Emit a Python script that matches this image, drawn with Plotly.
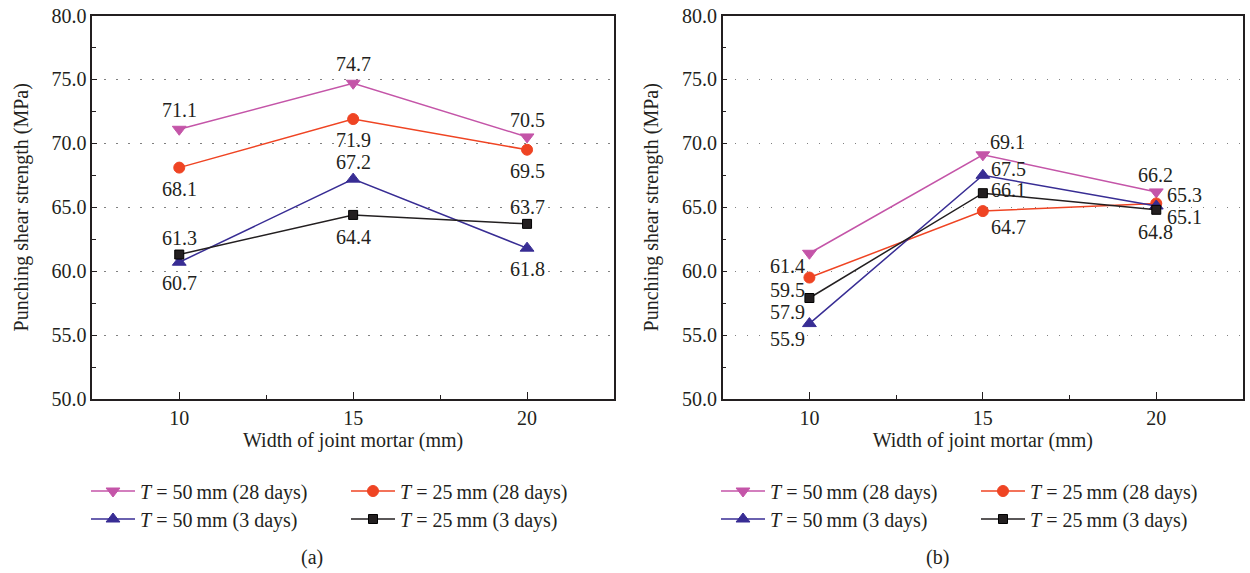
import plotly.graph_objects as go

# ---------------- data ----------------
widths = [10, 15, 20]
series_names = [
    "<i>T</i> = 50\u2009mm (28 days)",
    "<i>T</i> = 25\u2009mm (28 days)",
    "<i>T</i> = 50\u2009mm (3 days)",
    "<i>T</i> = 25\u2009mm (3 days)",
]
a_50_28 = [71.1, 74.7, 70.5]
a_25_28 = [68.1, 71.9, 69.5]
a_50_3 = [60.7, 67.2, 61.8]
a_25_3 = [61.3, 64.4, 63.7]
b_50_28 = [61.4, 69.1, 66.2]
b_25_28 = [59.5, 64.7, 65.3]
b_50_3 = [55.9, 67.5, 65.1]
b_25_3 = [57.9, 66.1, 64.8]
y_ticks = [50, 55, 60, 65, 70, 75, 80]
x_ticks = [10, 15, 20]

# ---------------- styles ----------------
FONT = "Liberation Serif"
FS = 20
TXT = "#231f20"
colors = ["#c455a8", "#ef4423", "#382d94", "#231f20"]
symbols = ["triangle-down", "circle", "triangle-up", "square"]
msizes = [12, 11, 12, 9]
W, H = 1250, 573

# label offsets in pixels (dx right, dy down) per series / point
off_a = [
    [(0, -19), (0, -19), (0, -17)],
    [(0, 21), (0, 21), (0, 21)],
    [(0, 21), (0, -17), (0, 21)],
    [(0, -17), (0, 22), (0, -17)],
]
off_b = [
    [(-22, 13), (25, -13), (-1, -17)],
    [(-22, 12), (26, 16), (28, -8)],
    [(-22, 15), (26, -6), (28, 11)],
    [(-22, 14), (26, -3), (-1, 22)],
]

fig = go.Figure()

panels = [
    ("x", "y", [a_50_28, a_25_28, a_50_3, a_25_3], off_a, 0),
    ("x2", "y2", [b_50_28, b_25_28, b_50_3, b_25_3], off_b, 4),
]
for xa, ya, data, offs, loff in panels:
    for i, vals in enumerate(data):
        fig.add_trace(go.Scatter(
            x=widths, y=vals, xaxis=xa, yaxis=ya,
            mode="lines+markers",
            name=series_names[i],
            line=dict(color=colors[i], width=1.5),
            marker=dict(symbol=symbols[i], size=msizes[i], color=colors[i],
                        line=dict(color="#000000" if i == 3 else colors[i], width=1)),
            legend="legend" if loff + i == 0 else f"legend{loff + i + 1}",
            showlegend=True,
        ))
        for xv, yv, (dx, dy) in zip(widths, vals, offs[i]):
            fig.add_annotation(
                x=xv, y=yv, xref=xa, yref=ya, text=f"{yv:.1f}",
                showarrow=False, xshift=dx, yshift=-dy,
                font=dict(family=FONT, size=FS, color=TXT),
            )

# panel pixel geometry
pa = (92.3, 614.0)
pb = (722.7, 1243.0)
ytop, ybot = 15.5, 399.0

def axis_common():
    return dict(
        showline=True, linecolor="#231f20", linewidth=1.5, mirror=True,
        ticks="inside", tickcolor="#231f20",
        tickfont=dict(family=FONT, size=FS, color=TXT),
        zeroline=False, automargin=False,
    )

for idx, (x0, x1) in enumerate([pa, pb]):
    sx = "" if idx == 0 else "2"
    fig.update_layout(**{
        f"xaxis{sx}": dict(
            axis_common(),
            domain=[x0 / W, x1 / W], range=[7.5, 22.5],
            tickvals=x_ticks, ticklen=7, tickwidth=1.2,
            minor=dict(tickvals=[12.5, 17.5], ticklen=4, ticks="inside", tickcolor="#231f20", showgrid=False),
            showgrid=False, anchor="y" if idx == 0 else "y2",
            title=dict(text="Width of joint mortar (mm)", font=dict(family=FONT, size=FS, color=TXT), standoff=4),
        ),
        f"yaxis{sx}": dict(
            axis_common(),
            domain=[1 - ybot / H, 1 - ytop / H], range=[50, 80],
            tickvals=y_ticks, tickformat=".1f", ticklen=5, tickwidth=1.2,
            minor=dict(dtick=2.5, tick0=0, ticklen=4, ticks="inside", tickcolor="#231f20", showgrid=False),
            showgrid=True, gridcolor="#808080", gridwidth=1.3, griddash="1.3px,10.7px",
            anchor="x" if idx == 0 else "x2",
            title=dict(text="Punching shear strength (MPa)", font=dict(family=FONT, size=FS, color=TXT), standoff=18),
        ),
    })

# legends (one item each, laid out in a 2x2 grid below each panel)
leg_x = [[92, 352], [722, 982]]
leg_y = [491, 519]
order = [(0, 0), (0, 1), (1, 0), (1, 1)]  # (row, col) for series 0..3
layout_leg = {}
for p in range(2):
    for i in range(4):
        r, c = order[i]
        n = p * 4 + i
        key = "legend" if n == 0 else f"legend{n + 1}"
        layout_leg[key] = dict(
            x=(leg_x[p][c] - 6) / W, y=1 - leg_y[r] / H,
            xanchor="left", yanchor="middle",
            bgcolor="rgba(0,0,0,0)", borderwidth=0,
            itemwidth=44,
            font=dict(family=FONT, size=FS, color=TXT),
            itemclick=False,
        )
fig.update_layout(**layout_leg)

fig.add_annotation(x=312 / W, y=1 - 557 / H, xref="paper", yref="paper", text="(a)",
                   xanchor="center", yanchor="middle",
                   showarrow=False, font=dict(family=FONT, size=FS, color=TXT))
fig.add_annotation(x=937 / W, y=1 - 557 / H, xref="paper", yref="paper", text="(b)",
                   xanchor="center", yanchor="middle",
                   showarrow=False, font=dict(family=FONT, size=FS, color=TXT))

fig.update_layout(
    width=W, height=H,
    margin=dict(l=0, r=0, t=0, b=0, autoexpand=False),
    paper_bgcolor="white", plot_bgcolor="white",
    font=dict(family=FONT, size=FS, color=TXT),
)

fig.write_html("out.html")
